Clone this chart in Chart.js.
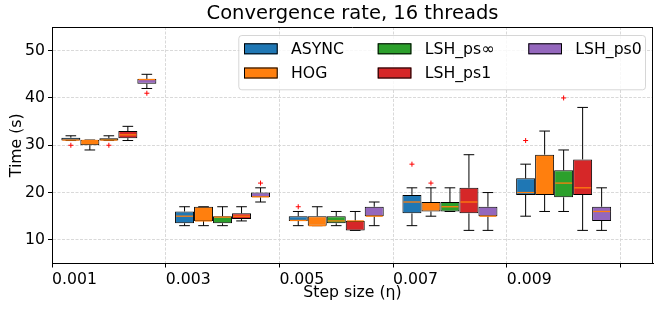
<!DOCTYPE html>
<html><head><meta charset="utf-8">
<script src="https://cdn.jsdelivr.net/npm/chart.js@4/dist/chart.umd.min.js"></script>
<style>html,body{margin:0;padding:0;background:#fff;}</style>
</head><body>
<canvas id="c" width="654" height="309"></canvas>
<script>
// ---- data ----
const stepSizes = ['0.001', '0.003', '0.005', '0.007', '0.009'];
const seriesNames = ['ASYNC', 'HOG', 'LSH_ps\u221e', 'LSH_ps1', 'LSH_ps0'];
// each entry: [lower whisker, Q1, median, Q3, upper whisker], one per step size
const asyncBoxes = [[31, 31, 31.1, 31.6, 32], [13, 13.5, 15, 16, 17], [13, 14, 14.1, 15, 16], [13, 15.6, 18, 19.5, 21], [15, 19.5, 20, 23, 26]];
const hogBoxes   = [[29, 30, 31, 31.1, 31.1], [13, 14, 14, 17, 17], [13, 13, 13, 15, 17], [15, 16, 17, 18, 21], [16, 19.5, 27, 28, 33]];
const lshInfBoxes = [[31, 31, 31.1, 31.5, 32], [13, 13.5, 14.8, 15, 17], [13, 13.5, 14, 15, 16], [16, 16, 17, 18, 21], [16, 19, 22, 24.7, 29]];
const lsh1Boxes  = [[31, 31.5, 32.2, 33, 34], [14, 14.4, 15, 15.6, 17], [12, 12, 14, 14, 16], [12, 15.6, 18, 21, 28], [12, 19.5, 21, 27, 38]];
const lsh0Boxes  = [[42, 43, 43.9, 44, 45], [18, 19, 19.1, 20, 21], [13, 15, 15, 17, 18], [12, 15, 15, 17, 20], [12, 14, 16, 17, 21]];
// outliers per step size
const asyncFliers = [[30], [], [17], [26], [31]];
const hogFliers   = [[], [], [], [22], []];
const lshInfFliers = [[30], [], [], [], [40]];
const lsh1Fliers  = [[], [], [], [], []];
const lsh0Fliers  = [[41], [22], [], [], []];
const yTicks = [10, 20, 30, 40, 50];
const xTicks = [0, 1, 2, 3, 4, 5];

// ---- styles ----
const seriesColors = ['#1f77b4', '#ff7f0e', '#2ca02c', '#d62728', '#9467bd'];
const allBoxes = [asyncBoxes, hogBoxes, lshInfBoxes, lsh1Boxes, lsh0Boxes];
const allFliers = [asyncFliers, hogFliers, lshInfFliers, lsh1Fliers, lsh0Fliers];
const FONT = 'DejaVu Sans';
Chart.defaults.font.family = FONT;
Chart.defaults.color = '#000';

const datasets = allBoxes.map((boxes, s) => ({
  label: seriesNames[s],
  data: boxes.map((b, i) => ({ x: i + 0.5, y: [b[1], b[3]] })),
  backgroundColor: seriesColors[s],
  borderColor: '#000',
  borderWidth: 1,
  borderSkipped: false,
  categoryPercentage: 0.8355,
  barPercentage: 1,
  stats: boxes,
  fliers: allFliers[s]
}));

const boxPlugin = {
  id: 'boxplot',
  beforeDatasetsDraw(chart) {
    const ctx = chart.ctx, ys = chart.scales.y;
    ctx.save();
    ctx.strokeStyle = '#000';
    ctx.lineWidth = 1;
    chart.data.datasets.forEach((ds, d) => {
      const meta = chart.getDatasetMeta(d);
      meta.data.forEach((el, i) => {
        const st = ds.stats[i];
        const x = el.x, cw = el.width * 0.28;
        ctx.beginPath();
        ctx.moveTo(x, ys.getPixelForValue(st[3]));
        ctx.lineTo(x, ys.getPixelForValue(st[4]));
        ctx.moveTo(x, ys.getPixelForValue(st[1]));
        ctx.lineTo(x, ys.getPixelForValue(st[0]));
        const yl = ys.getPixelForValue(st[0]), yh = ys.getPixelForValue(st[4]);
        ctx.moveTo(x - cw, yl); ctx.lineTo(x + cw, yl);
        ctx.moveTo(x - cw, yh); ctx.lineTo(x + cw, yh);
        ctx.stroke();
      });
    });
    ctx.restore();
  },
  afterDatasetsDraw(chart) {
    const ctx = chart.ctx, ys = chart.scales.y;
    ctx.save();
    chart.data.datasets.forEach((ds, d) => {
      const meta = chart.getDatasetMeta(d);
      meta.data.forEach((el, i) => {
        const st = ds.stats[i];
        const x = el.x, hw = el.width / 2;
        const ym = ys.getPixelForValue(st[2]);
        ctx.strokeStyle = '#ff7f0e';
        ctx.lineWidth = 1.3;
        ctx.beginPath();
        ctx.moveTo(x - hw + 1, ym); ctx.lineTo(x + hw - 1, ym);
        ctx.stroke();
        ctx.strokeStyle = '#ff0000';
        ctx.lineWidth = 1;
        ds.fliers[i].forEach(v => {
          const yf = ys.getPixelForValue(v);
          ctx.beginPath();
          ctx.moveTo(x - 2.5, yf); ctx.lineTo(x + 2.5, yf);
          ctx.moveTo(x, yf - 2.5); ctx.lineTo(x, yf + 2.5);
          ctx.stroke();
        });
      });
    });
    ctx.restore();
  },
  afterDraw(chart) {
    const ctx = chart.ctx, a = chart.chartArea;
    ctx.save();
    // top & right spines
    ctx.strokeStyle = '#000';
    ctx.lineWidth = 1;
    ctx.beginPath();
    ctx.moveTo(a.left, a.top + 0.5); ctx.lineTo(a.right, a.top + 0.5);
    ctx.moveTo(a.right - 0.5, a.top); ctx.lineTo(a.right - 0.5, a.bottom);
    ctx.stroke();
    // legend
    const W = 406.7, H = 54.3;
    const L = a.right - 8 - W, T = a.top + 8;
    ctx.beginPath();
    ctx.roundRect(L + 0.5, T + 0.5, W, H, 3);
    ctx.fillStyle = 'rgba(255,255,255,0.8)';
    ctx.fill();
    ctx.strokeStyle = 'rgba(204,204,204,0.8)';
    ctx.stroke();
    const colX = [5.7, 139.4, 290];
    const rowY = [13.8, 38];
    const layout = [[0, 0], [0, 1], [1, 0], [1, 1], [2, 0]];
    ctx.font = '15.7px "' + FONT + '"';
    ctx.textBaseline = 'middle';
    ctx.textAlign = 'left';
    chart.data.datasets.forEach((ds, d) => {
      const px = L + colX[layout[d][0]], cy = T + rowY[layout[d][1]];
      ctx.fillStyle = ds.backgroundColor;
      ctx.fillRect(px, cy - 5.5, 33.7, 11);
      ctx.strokeStyle = '#000';
      ctx.lineWidth = 1;
      ctx.strokeRect(px + 0.5, cy - 5.5 + 0.5, 32.7, 10);
      ctx.fillStyle = '#000';
      ctx.fillText(ds.label, px + 47, cy + 1);
    });
    ctx.restore();
  }
};

new Chart(document.getElementById('c'), {
  type: 'bar',
  data: { datasets },
  plugins: [boxPlugin],
  options: {
    responsive: false,
    devicePixelRatio: 1,
    animation: false,
    layout: { padding: { left: 0, right: 1, top: 0, bottom: 0 } },
    plugins: {
      legend: { display: false },
      tooltip: { enabled: false },
      title: {
        display: true,
        text: 'Convergence rate, 16 threads',
        fullSize: false,
        color: '#000',
        font: { family: FONT, size: 19.5, weight: 'normal' },
        padding: { top: 2, bottom: 1.6 }
      }
    },
    scales: {
      x: {
        type: 'linear',
        min: 0,
        max: 5.286,
        offset: false,
        afterBuildTicks: s => { s.ticks = xTicks.map(v => ({ value: v })); },
        afterFit: s => { s.height = 45.5; },
        ticks: {
          callback: v => (stepSizes[v] !== undefined ? stepSizes[v] : ''),
          align: 'start',
          maxRotation: 0,
          autoSkip: false,
          padding: 3,
          color: '#000',
          font: { family: FONT, size: 15.7 }
        },
        grid: {
          offset: false,
          color: '#d9d9d9',
          lineWidth: 1,
          tickLength: 4,
          tickColor: '#000',
          tickBorderDash: []
        },
        border: { color: '#000', width: 1, dash: [3, 1.5] },
        title: {
          display: true,
          text: 'Step size (\u03b7)',
          color: '#000',
          font: { family: FONT, size: 15.7 },
          padding: { top: 0, bottom: 7 }
        }
      },
      y: {
        min: 5,
        max: 55,
        afterBuildTicks: s => { s.ticks = yTicks.map(v => ({ value: v })); },
        afterFit: s => { s.width = 52; },
        ticks: {
          padding: 3,
          color: '#000',
          font: { family: FONT, size: 15.7 }
        },
        grid: {
          color: '#d9d9d9',
          lineWidth: 1,
          tickLength: 4,
          tickColor: '#000',
          tickBorderDash: []
        },
        border: { color: '#000', width: 1, dash: [3, 1.5] },
        title: {
          display: true,
          text: 'Time (s)',
          color: '#000',
          font: { family: FONT, size: 15.7 },
          padding: { top: 7.6, bottom: 0 }
        }
      }
    }
  }
});
</script>
</body></html>
